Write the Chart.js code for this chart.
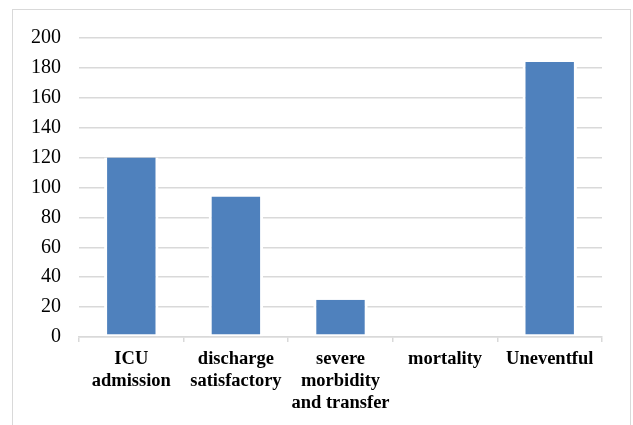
<!DOCTYPE html>
<html>
<head>
<meta charset="utf-8">
<script src="https://cdn.jsdelivr.net/npm/chart.js@4/dist/chart.umd.min.js"></script>
<style>
  html, body { margin: 0; padding: 0; background: #fff; overflow: hidden; }
  #wrap { position: relative; width: 633px; height: 425px; }
</style>
</head>
<body>
<div id="wrap"><canvas id="outcomeChart" width="633" height="425"></canvas></div>
<script>
// Chart data
const categories = [
  ["ICU", "admission"],
  ["discharge", "satisfactory"],
  ["severe", "morbidity", "and transfer"],
  "mortality",
  "Uneventful"
];
const patientCounts = [120, 94, 25, 0, 184];
const yTicks = [0, 20, 40, 60, 80, 100, 120, 140, 160, 180, 200];

// Light grey frame around the whole chart area
const framePlugin = {
  id: "frame",
  beforeDraw(chart) {
    const ctx = chart.ctx;
    ctx.save();
    ctx.fillStyle = "#ffffff";
    ctx.fillRect(0, 0, chart.width, chart.height);
    ctx.strokeStyle = "#d9d9d9";
    ctx.lineWidth = 1;
    ctx.strokeRect(12.5, 9.5, 618, 500);
    ctx.restore();
  }
};

const ctx = document.getElementById("outcomeChart").getContext("2d");
new Chart(ctx, {
  type: "bar",
  data: {
    labels: categories,
    datasets: [{
      data: patientCounts,
      backgroundColor: "#4f81bd",
      borderColor: "#ffffff",
      borderWidth: { left: 3, right: 3, top: 0, bottom: 2 },
      borderSkipped: false,
      barPercentage: 0.52,
      categoryPercentage: 1
    }]
  },
  options: {
    responsive: false,
    animation: false,
    layout: { padding: { top: 38, right: 31, left: 0, bottom: 0 } },
    plugins: {
      legend: { display: false },
      tooltip: { enabled: false }
    },
    scales: {
      x: {
        afterFit(scale) { scale.height = 88; },
        grid: {
          offset: true,
          drawOnChartArea: false,
          drawTicks: true,
          tickLength: 5,
          color: "#d9d9d9",
          lineWidth: 1.5
        },
        border: { display: true, color: "#d9d9d9", width: 1.5 },
        ticks: {
          autoSkip: false,
          maxRotation: 0,
          padding: 6,
          color: "#000",
          font: { family: "'Liberation Serif', 'Times New Roman', serif", size: 18.5, weight: "bold", lineHeight: 1.2 }
        }
      },
      y: {
        min: 0,
        max: 200,
        afterFit(scale) { scale.width = 79; },
        afterBuildTicks(scale) { scale.ticks = yTicks.map(v => ({ value: v })); },
        grid: { color: "#d9d9d9", lineWidth: 1.5, drawTicks: false },
        border: { display: false },
        ticks: {
          padding: 18,
          color: "#000",
          font: { family: "'Liberation Serif', 'Times New Roman', serif", size: 20 }
        }
      }
    }
  },
  plugins: [framePlugin]
});
</script>
</body>
</html>
